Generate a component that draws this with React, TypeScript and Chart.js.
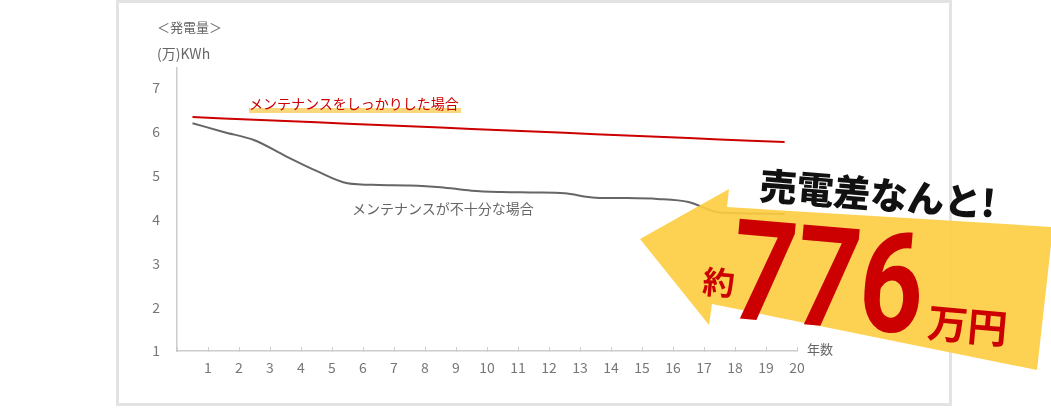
import React, { useEffect, useRef } from "react";
import { Chart, registerables } from "chart.js";

Chart.register(...registerables);

// year positions (points sit between the year ticks)
const years = [0.5, 1.5, 2.5, 3.5, 4.5, 5.5, 6.5, 7.5, 8.5, 9.5, 10.5, 11.5, 12.5, 13.5, 14.5, 15.5, 16.5, 17.5, 18.5, 19.6];
// 万KWh
const wellMaintained = [6.34, 6.31, 6.28, 6.25, 6.22, 6.19, 6.16, 6.13, 6.1, 6.07, 6.04, 6.01, 5.98, 5.95, 5.92, 5.89, 5.86, 5.83, 5.8, 5.77];
const poorlyMaintained = [6.2, 6.0, 5.81, 5.45, 5.11, 4.83, 4.79, 4.78, 4.74, 4.66, 4.63, 4.62, 4.6, 4.5, 4.49, 4.47, 4.4, 4.16, 4.14, 4.13];

const JP = '"Noto Sans CJK JP", "Noto Sans", sans-serif';

const App: React.FC = () => {
  const chartRef = useRef<HTMLCanvasElement | null>(null);

  useEffect(() => {
    if (!chartRef.current) return;
    const ctx = chartRef.current.getContext("2d");
    if (!ctx) return;

    const chart = new Chart(ctx, {
      type: "line",
      data: {
        datasets: [
          {
            label: "メンテナンスをしっかりした場合",
            data: years.map((x, i) => ({ x, y: wellMaintained[i] })),
            borderColor: "#cc0000",
            borderWidth: 2,
            tension: 0,
            pointRadius: 0,
            fill: false,
          },
          {
            label: "メンテナンスが不十分な場合",
            data: years.map((x, i) => ({ x, y: poorlyMaintained[i] })),
            borderColor: "#666666",
            borderWidth: 2,
            cubicInterpolationMode: "monotone",
            pointRadius: 0,
            fill: false,
          },
        ],
      },
      options: {
        animation: false,
        responsive: false,
        layout: { padding: { top: 68, right: 254, bottom: 0, left: 0 } },
        plugins: {
          legend: { display: false },
          tooltip: { enabled: false },
        },
        scales: {
          x: {
            type: "linear",
            min: 0,
            max: 20,
            afterFit: (scale: any) => {
              scale.height = 57;
            },
            grid: {
              display: true,
              drawOnChartArea: false,
              drawTicks: true,
              tickLength: -4,
              tickColor: "#cccccc",
            },
            border: { display: true, color: "#cccccc", width: 1.5 },
            ticks: {
              stepSize: 1,
              autoSkip: false,
              maxRotation: 0,
              padding: 12,
              color: "#777777",
              font: { family: JP, size: 14 },
              callback: (v: any) => (v === 0 ? "" : String(v)),
            },
          },
          y: {
            min: 1,
            max: 7.46,
            afterFit: (scale: any) => {
              scale.width = 177;
            },
            grid: { display: false },
            border: { display: true, color: "#cccccc", width: 1.5 },
            ticks: {
              stepSize: 1,
              padding: 9,
              color: "#777777",
              font: { family: JP, size: 14 },
              callback: (v: any) => (Number.isInteger(v) ? String(v) : ""),
            },
          },
        },
      },
    });

    return () => {
      chart.destroy();
    };
  }, []);

  const abs = (s: React.CSSProperties): React.CSSProperties => ({
    position: "absolute",
    whiteSpace: "nowrap",
    fontFamily: JP,
    ...s,
  });

  return (
    <div style={{ position: "absolute", left: 0, top: 0, width: 1051, height: 408, background: "#fff", overflow: "hidden" }}>
      <div
        style={{
          position: "absolute",
          left: 116,
          top: 0,
          width: 830,
          height: 400,
          border: "3px solid #e3e3e3",
        }}
      />
      <canvas ref={chartRef} width={1051} height={408} style={{ position: "absolute", left: 0, top: 0, width: 1051, height: 408 }}></canvas>

      <div style={abs({ left: 157, top: 20, fontSize: 13, lineHeight: "13px", color: "#666" })}>＜発電量＞</div>
      <div style={abs({ left: 157, top: 46, fontSize: 14, lineHeight: "14px", color: "#666" })}>(万)KWh</div>
      <div style={abs({ left: 807, top: 342, fontSize: 13, lineHeight: "13px", color: "#666" })}>年数</div>

      <div
        style={abs({
          left: 249,
          top: 96,
          fontSize: 14,
          lineHeight: "14px",
          paddingBottom: 3,
          paddingRight: 2,
          color: "#cc0000",
          background: "linear-gradient(to bottom, transparent 12px, #fad77c 12px)",
        })}
      >
        メンテナンスをしっかりした場合
      </div>
      <div style={abs({ left: 352, top: 201, fontSize: 14, lineHeight: "14px", color: "#666" })}>
        メンテナンスが不十分な場合
      </div>

      <svg width={1051} height={408} style={{ position: "absolute", left: 0, top: 0 }}>
        <polygon
          points="640,239 729,189 727,207 1053,227 1037,370 712,304 709,325"
          fill="rgba(253,205,64,0.9)"
        />
      </svg>

      <div
        style={abs({
          left: 760,
          top: 165,
          fontSize: 37,
          lineHeight: "37px",
          fontWeight: 900,
          color: "#111",
          transform: "rotate(4.5deg)",
          transformOrigin: "left center",
        })}
      >
        売電差なんと!
      </div>
      <div
        style={abs({
          left: 703,
          top: 263,
          fontSize: 32,
          lineHeight: "32px",
          fontWeight: 700,
          color: "#cc0000",
          transform: "rotate(5deg)",
          transformOrigin: "left center",
        })}
      >
        約
      </div>
      <div
        style={abs({
          left: 738,
          top: 200,
          fontSize: 140,
          lineHeight: "140px",
          fontWeight: 700,
          fontFamily: "Roboto, sans-serif",
          color: "#cc0000",
          transform: "rotate(5deg) scaleX(0.8)",
          transformOrigin: "left top",
        })}
      >
        776
      </div>
      <div
        style={abs({
          left: 928,
          top: 300,
          fontSize: 40,
          lineHeight: "40px",
          fontWeight: 700,
          color: "#cc0000",
          transform: "rotate(5deg)",
          transformOrigin: "left center",
        })}
      >
        万円
      </div>
    </div>
  );
};

export default App;
